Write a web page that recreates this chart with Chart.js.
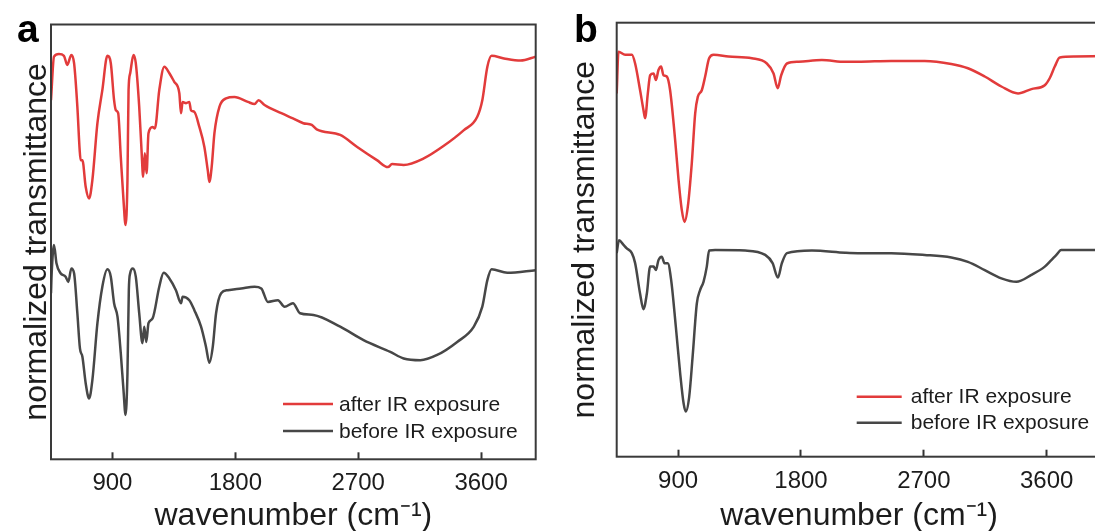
<!DOCTYPE html>
<html><head><meta charset="utf-8">
<script src="https://cdn.jsdelivr.net/npm/chart.js@4.4.0/dist/chart.umd.min.js"></script>
<style>
html,body{margin:0;padding:0;background:#fff;overflow:hidden;width:1095px;height:531px;position:relative;}
#ca{position:absolute;left:0;top:0;}
#cb{position:absolute;left:547px;top:0;}
</style></head><body>
<canvas id="ca" width="547" height="531" style="width:547px;height:531px"></canvas>
<canvas id="cb" width="563" height="531" style="width:563px;height:531px"></canvas>
<script>
// ---- data (wavenumber in cm^-1, normalized transmittance in a.u.) ----
const xTicks = [900, 1800, 2700, 3600];
const seriesLabels = ['after IR exposure', 'before IR exposure'];

const aX_after = [450,472,508,545,569,599,619,643,660,667,680,704,729,753,790,826,863,888,912,925,942,961,981,996,1010,1018,1030,1054,1071,1096,1113,1125,1137,1150,1164,1194,1211,1243,1280,1317,1353,1390,1402,1414,1439,1463,1475,1500,1536,1573,1598,1610,1627,1647,1684,1732,1794,1892,1941,1970,2014,2137,2222,2298,2360,2396,2568,2690,2837,2918,2948,3033,3180,3327,3474,3572,3609,3646,3677,3768,3890,4000];
const aY_after = [82.6,92.6,93.2,92.8,90.7,93.0,91.1,81.1,71.1,68.8,68.8,62.7,60.0,64.2,77.3,84.9,92.8,91.1,82.6,80.3,79.6,69.6,59.6,53.9,64.2,84.9,88.8,93.0,91.1,81.1,71.1,65.0,70.4,65.8,75.0,76.4,76.1,84.9,90.3,88.8,86.8,84.2,79.6,82.2,81.9,82.2,80.3,79.9,76.5,71.9,66.5,63.8,67.3,75.0,81.1,83.0,83.3,82.2,81.7,82.6,81.5,79.6,78.4,77.3,76.9,75.9,74.6,71.9,68.8,67.2,67.9,67.7,69.2,72.1,75.7,78.8,82.6,90.3,92.8,92.2,91.7,92.6];

const aX_before = [450,455,472,490,520,557,577,599,619,643,662,680,704,729,753,790,826,863,888,912,937,961,981,996,1010,1020,1030,1049,1071,1096,1120,1133,1148,1164,1194,1243,1275,1317,1365,1402,1414,1463,1500,1549,1585,1610,1635,1659,1696,1745,1843,1941,1990,2039,2112,2161,2222,2274,2372,2568,2739,2935,3033,3155,3278,3425,3547,3609,3646,3677,3792,4000];
const aY_before = [38.2,42.8,49.3,45.1,42.8,42.0,40.8,43.9,42.8,33.6,25.5,23.6,17.5,14.0,18.2,31.3,39.7,43.7,42.0,35.9,32.8,24.4,15.9,10.2,19.8,38.9,42.8,43.9,42.0,33.6,26.7,30.5,27.0,31.3,32.4,39.7,42.9,41.6,38.9,35.9,37.4,36.6,34.3,30.5,25.9,22.2,25.9,33.6,38.2,38.9,39.3,39.7,39.3,36.2,36.6,35.1,35.9,33.6,33.2,30.5,27.4,24.7,23.2,22.8,24.0,27.0,30.5,35.1,41.2,43.7,42.9,43.5];

const bX_after = [450,463,512,561,585,621,646,658,678,695,720,737,756,775,793,817,841,878,903,927,947,971,1000,1025,1044,1074,1098,1127,1160,1269,1440,1550,1599,1629,1655,1697,1783,1953,2124,2217,2461,2706,2901,3023,3146,3268,3390,3488,3586,3622,3659,3696,3806,4000];
const bY_after = [83.7,93.3,92.6,92.6,90.6,84.5,79.9,78.0,83.7,87.9,88.3,86.8,89.1,89.9,87.9,87.6,84.5,73.0,63.8,56.8,54.1,57.6,67.6,79.1,82.9,84.5,87.6,91.8,92.6,92.2,91.8,90.6,88.3,84.9,87.9,90.6,91.0,91.4,91.0,91.0,91.2,91.2,90.5,89.5,87.6,85.3,83.7,84.7,85.6,87.2,89.9,92.0,92.2,92.3];

const bX_before = [450,467,500,524,561,585,621,646,671,695,720,737,756,780,800,824,849,883,915,940,956,981,1006,1037,1061,1086,1110,1127,1171,1391,1538,1592,1631,1660,1697,1880,2124,2217,2461,2706,2901,3023,3146,3268,3378,3488,3586,3634,3671,3707,4000];
const bY_before = [46.9,49.9,48.8,48.0,46.9,44.6,37.6,34.0,37.6,43.8,43.8,43.0,45.3,46.1,44.6,44.6,40.7,30.0,19.2,12.3,10.4,13.8,23.0,35.3,38.4,40.3,43.8,47.5,47.6,47.5,46.5,44.6,41.3,44.6,46.9,47.5,47.0,46.9,46.9,46.5,45.9,44.9,43.0,41.1,40.3,41.9,43.8,45.3,46.5,47.6,47.6];

// ---- styling ----
const RED = '#e23b3b';
const GRAY = '#474747';
const FONT = '"Liberation Sans", Arial, Helvetica, sans-serif';
const TXT = '#1c1c1c';

const pts = (xs, ys) => xs.map((x, i) => ({x: x, y: ys[i]}));

const framePlugin = {
  id: 'frameAndExtras',
  afterDraw(chart, args, o) {
    const ctx = chart.ctx, a = chart.chartArea;
    ctx.save();
    // frame
    ctx.strokeStyle = '#3a3a3a';
    ctx.lineWidth = 2;
    ctx.strokeRect(a.left, a.top, a.right - a.left, a.bottom - a.top);
    // legend inside plot
    ctx.font = '21px ' + FONT;
    ctx.textBaseline = 'middle';
    ctx.textAlign = 'left';
    chart.data.datasets.forEach((ds, i) => {
      const y = a.bottom + o.legendY[i];
      const x0 = a.left + o.legendX;
      ctx.strokeStyle = ds.borderColor;
      ctx.lineWidth = 2.5;
      ctx.beginPath();
      ctx.moveTo(x0, y);
      ctx.lineTo(x0 + o.legendLen, y);
      ctx.stroke();
      ctx.fillStyle = TXT;
      ctx.fillText(ds.label, x0 + o.legendLen + o.legendGap, y + 1);
    });
    // panel letter
    ctx.font = 'bold 39px ' + FONT;
    ctx.fillStyle = '#000';
    ctx.textBaseline = 'alphabetic';
    ctx.fillText(o.letter, o.letterX, o.letterY);
    ctx.restore();
  }
};

function makeChart(id, dAfter, dBefore, geo) {
  return new Chart(document.getElementById(id), {
    type: 'line',
    data: {
      datasets: [
        {label: seriesLabels[0], data: dAfter, borderColor: RED, borderWidth: 2.5},
        {label: seriesLabels[1], data: dBefore, borderColor: GRAY, borderWidth: 2.5}
      ]
    },
    options: {
      responsive: false,
      animation: false,
      devicePixelRatio: 1,
      parsing: false,
      elements: {point: {radius: 0}, line: {tension: 0, cubicInterpolationMode: 'monotone', borderJoinStyle: 'round'}},
      layout: {padding: {top: geo.top, right: geo.right, bottom: 0, left: 0}},
      plugins: {
        legend: {display: false},
        tooltip: {enabled: false},
        frameAndExtras: geo.extras
      },
      scales: {
        x: {
          type: 'linear',
          min: 450, max: 4000,
          afterBuildTicks: s => { s.ticks = xTicks.map(v => ({value: v})); },
          afterFit: s => { s.height = geo.xHeight; },
          border: {display: false},
          grid: {display: true, drawOnChartArea: false, drawTicks: true, tickLength: -7, tickColor: '#333', tickWidth: 2},
          ticks: {color: TXT, font: {family: FONT, size: 24}, padding: 17, maxRotation: 0, callback: v => String(v)},
          title: {display: true, text: 'wavenumber (cm\u207B\u00B9)', color: TXT, font: {family: FONT, size: 32, lineHeight: 0.9}, padding: {top: 0, bottom: 0}}
        },
        y: {
          type: 'linear',
          min: 0, max: 100,
          afterFit: s => { s.width = geo.yWidth; },
          border: {display: false},
          grid: {display: false},
          ticks: {display: false},
          title: {display: true, text: 'normalized transmittance', color: TXT, font: {family: FONT, size: 32, lineHeight: 1.2}, padding: {top: geo.yTitlePad, bottom: 0}}
        }
      }
    },
    plugins: [framePlugin]
  });
}

makeChart('ca', pts(aX_after, aY_after), pts(aX_before, aY_before), {
  top: 24.5, right: 11.3, xHeight: 71.7, yWidth: 51, yTitlePad: 17.5,
  extras: {legendX: 232, legendLen: 50, legendGap: 6, legendY: [-55.3, -28.3], letter: 'a', letterX: 17, letterY: 42}
});
makeChart('cb', pts(bX_after, bY_after), pts(bX_before, bY_before), {
  top: 22.7, right: 8.7, xHeight: 74.3, yWidth: 69.7, yTitlePad: 18.8,
  extras: {legendX: 240, legendLen: 45, legendGap: 9, legendY: [-60, -34], letter: 'b', letterX: 27, letterY: 42}
});
</script>
</body></html>
